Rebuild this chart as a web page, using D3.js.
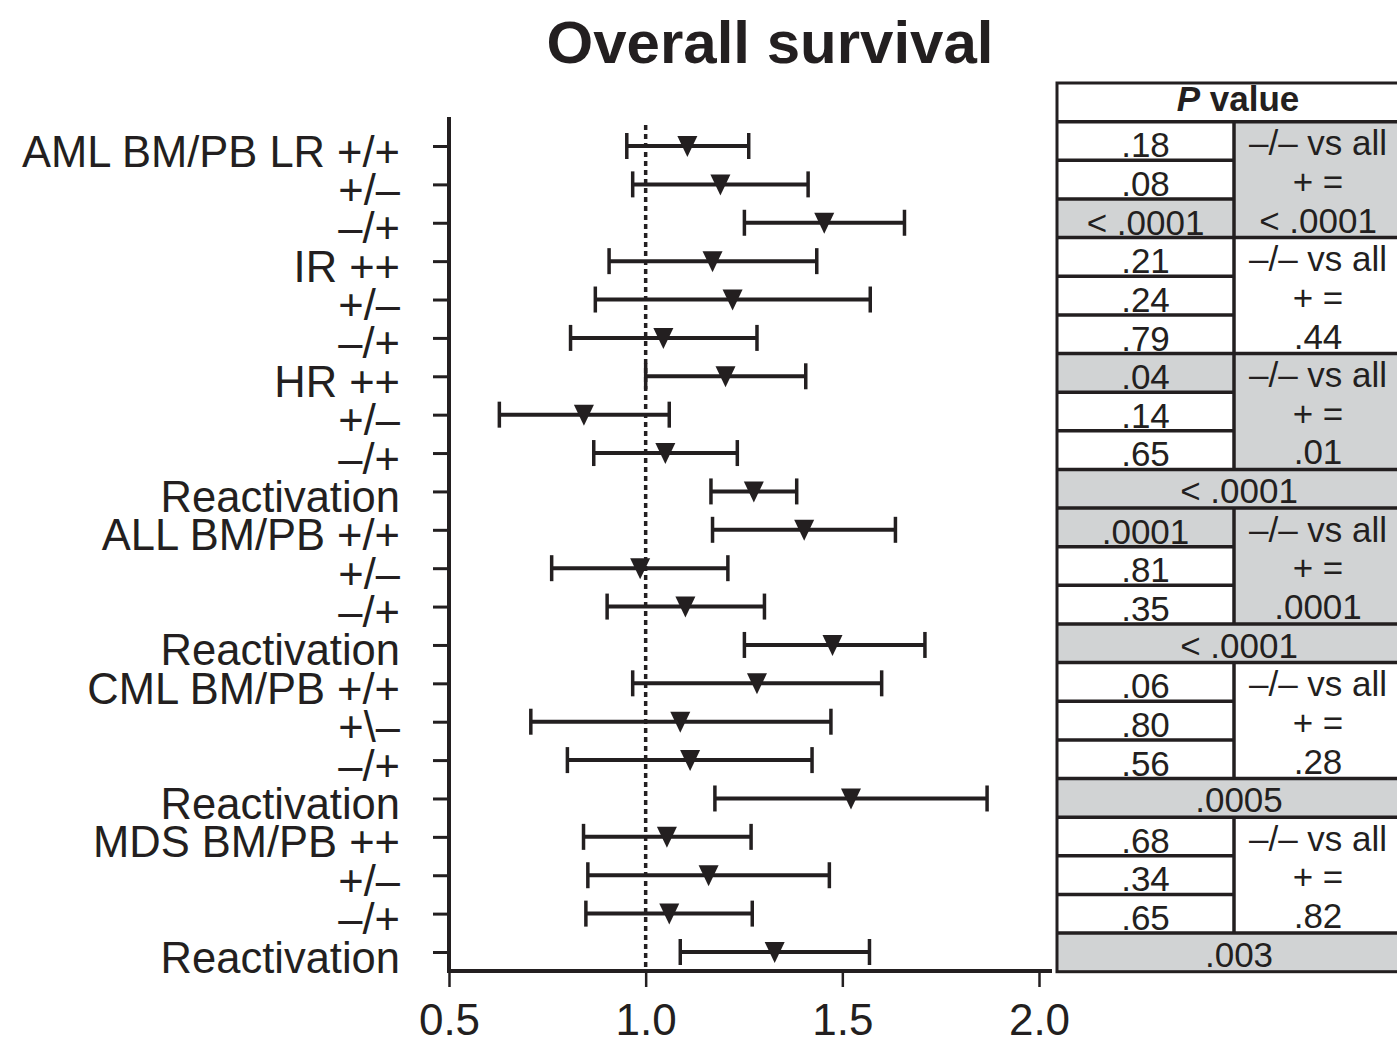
<!DOCTYPE html>
<html>
<head>
<meta charset="utf-8">
<script src="https://cdn.jsdelivr.net/npm/d3@7"></script>
<style>
  html, body { margin: 0; padding: 0; background: #fff; }
  svg { display: block; }
  text { font-family: "Liberation Sans", Arial, Helvetica, sans-serif; fill: #231f20; }
</style>
</head>
<body>
<svg id="chart" width="1397" height="1045"></svg>
<script>
// ---------- data ----------
const rowLabels = [
  "AML BM/PB LR +/+", "+/\u2013", "\u2013/+",
  "IR ++", "+/\u2013", "\u2013/+",
  "HR ++", "+/\u2013", "\u2013/+",
  "Reactivation",
  "ALL BM/PB +/+", "+/\u2013", "\u2013/+",
  "Reactivation",
  "CML BM/PB +/+", "+\\\u2013", "\u2013/+",
  "Reactivation",
  "MDS BM/PB ++", "+/\u2013", "\u2013/+",
  "Reactivation"
];
const estimate = [1.106, 1.190, 1.454, 1.170, 1.221, 1.045, 1.203, 0.843, 1.050, 1.275, 1.403,
                  0.986, 1.101, 1.475, 1.283, 1.088, 1.113, 1.522, 1.054, 1.160, 1.060, 1.328];
const lower    = [0.952, 0.967, 1.251, 0.907, 0.872, 0.809, 1.000, 0.628, 0.868, 1.166, 1.170,
                  0.761, 0.902, 1.251, 0.967, 0.708, 0.801, 1.176, 0.842, 0.853, 0.848, 1.088];
const upper    = [1.262, 1.413, 1.658, 1.435, 1.571, 1.283, 1.407, 1.060, 1.233, 1.384, 1.635,
                  1.209, 1.302, 1.710, 1.600, 1.471, 1.423, 1.868, 1.268, 1.467, 1.271, 1.569];
const xTicks = [0.5, 1.0, 1.5, 2.0];
const refValue = 1.0;

const pValues = [".18", ".08", "< .0001", ".21", ".24", ".79", ".04", ".14", ".65", "< .0001",
                 ".0001", ".81", ".35", "< .0001", ".06", ".80", ".56", ".0005", ".68", ".34", ".65", ".003"];
const pShaded  = [0,0,1, 0,0,0, 1,0,0, 1, 1,0,0, 1, 0,0,0, 1, 0,0,0, 1];
const pFullRow = [0,0,0, 0,0,0, 0,0,0, 1, 0,0,0, 1, 0,0,0, 1, 0,0,0, 1];
const groupStart  = [0, 3, 6, 10, 14, 18];
const groupLine1  = ["\u2013/\u2013 vs all", "\u2013/\u2013 vs all", "\u2013/\u2013 vs all",
                     "\u2013/\u2013 vs all", "\u2013/\u2013 vs all", "\u2013/\u2013 vs all"];
const groupLine2  = ["+ =", "+ =", "+ =", "+ =", "+ =", "+ ="];
const groupP      = ["< .0001", ".44", ".01", ".0001", ".28", ".82"];
const groupShaded = [1, 0, 1, 1, 0, 0];

// ---------- layout ----------
const ink = "#231f20", gray = "#d1d3d4";
const svg = d3.select("#chart");

const x = d3.scaleLinear().domain([0.5, 2.0]).range([449, 1039]);
const y = d3.scalePoint().domain(d3.range(rowLabels.length)).range([146, 952]);

// title
svg.append("text").attr("x", 770).attr("y", 63).attr("text-anchor", "middle")
  .attr("font-size", 60).attr("font-weight", "bold").text("Overall survival");

// y axis
const yAxis = d3.axisLeft(y).tickSize(16).tickSizeOuter(0).tickPadding(33)
  .tickFormat(i => rowLabels[i]);
const gy = svg.append("g").attr("transform", "translate(449,0)").call(yAxis);
gy.select(".domain").remove();
gy.selectAll(".tick line").attr("stroke", ink).attr("stroke-width", 3);
gy.selectAll(".tick text").attr("font-size", 43.5).attr("dy", "0.46em")
  .attr("font-family", "'Liberation Sans', Arial, sans-serif").attr("fill", ink);
svg.append("line").attr("x1", 449).attr("x2", 449).attr("y1", 117).attr("y2", 973)
  .attr("stroke", ink).attr("stroke-width", 4);

// x axis
const xAxis = d3.axisBottom(x).tickValues(xTicks).tickFormat(d3.format(".1f"))
  .tickSize(16).tickSizeOuter(0).tickPadding(17);
const gx = svg.append("g").attr("transform", "translate(0,971)").call(xAxis);
gx.select(".domain").remove();
gx.selectAll(".tick line").attr("stroke", ink).attr("stroke-width", 2.5);
gx.selectAll(".tick text").attr("font-size", 44).attr("dy", "0.71em")
  .attr("font-family", "'Liberation Sans', Arial, sans-serif").attr("fill", ink);
svg.append("line").attr("x1", 447).attr("x2", 1052).attr("y1", 971).attr("y2", 971)
  .attr("stroke", ink).attr("stroke-width", 4);

// reference line
svg.append("line").attr("x1", x(refValue)).attr("x2", x(refValue)).attr("y1", 125).attr("y2", 970)
  .attr("stroke", ink).attr("stroke-width", 3.5).attr("stroke-dasharray", "5,4");

// error bars
const rows = d3.range(rowLabels.length);
const bars = svg.append("g");
bars.selectAll("line.ci").data(rows).join("line").attr("class", "ci")
  .attr("x1", i => x(lower[i])).attr("x2", i => x(upper[i]))
  .attr("y1", i => y(i)).attr("y2", i => y(i))
  .attr("stroke", ink).attr("stroke-width", 4);
bars.selectAll("line.capL").data(rows).join("line").attr("class", "capL")
  .attr("x1", i => x(lower[i])).attr("x2", i => x(lower[i]))
  .attr("y1", i => y(i) - 13).attr("y2", i => y(i) + 13)
  .attr("stroke", ink).attr("stroke-width", 3.5);
bars.selectAll("line.capR").data(rows).join("line").attr("class", "capR")
  .attr("x1", i => x(upper[i])).attr("x2", i => x(upper[i]))
  .attr("y1", i => y(i) - 13).attr("y2", i => y(i) + 13)
  .attr("stroke", ink).attr("stroke-width", 3.5);
bars.selectAll("path.pt").data(rows).join("path").attr("class", "pt")
  .attr("d", i => {
    const cx = x(estimate[i]), cy = y(i);
    return `M${cx - 10},${cy - 10}L${cx + 10},${cy - 10}L${cx},${cy + 11}Z`;
  })
  .attr("fill", ink);

// ---------- P value table ----------
const tL = 1057, tDiv = 1234, tR = 1421, tTop = 83, tHead = 121.7, tBot = 971.7;
const rh = (tBot - tHead) / pValues.length;
const rowTop = i => tHead + i * rh;
const table = svg.append("g");
const tfs = 35;

// header
table.append("rect").attr("x", tL).attr("y", tTop).attr("width", tR - tL).attr("height", tHead - tTop).attr("fill", "#fff");
const ht = table.append("text").attr("x", (tL + tR) / 2 - 1).attr("y", 111).attr("text-anchor", "middle")
  .attr("font-size", tfs).attr("font-weight", "bold");
ht.append("tspan").attr("font-style", "italic").text("P");
ht.append("tspan").text(" value");

// cell fills
pValues.forEach((v, i) => {
  const w = pFullRow[i] ? tR - tL : tDiv - tL;
  table.append("rect").attr("x", tL).attr("y", rowTop(i)).attr("width", w).attr("height", rh)
    .attr("fill", pShaded[i] ? gray : "#fff");
});
groupStart.forEach((s, g) => {
  table.append("rect").attr("x", tDiv).attr("y", rowTop(s)).attr("width", tR - tDiv).attr("height", rh * 3)
    .attr("fill", groupShaded[g] ? gray : "#fff");
});

// cell texts
pValues.forEach((v, i) => {
  const cx = pFullRow[i] ? (tL + tR) / 2 : (tL + tDiv) / 2;
  table.append("text").attr("x", cx).attr("y", rowTop(i + 1) - (pFullRow[i] ? 5 : 3))
    .attr("text-anchor", "middle").attr("font-size", tfs).text(v);
});
groupStart.forEach((s, g) => {
  const cx = 1318;
  [groupLine1[g], groupLine2[g], groupP[g]].forEach((t, k) => {
    table.append("text").attr("x", cx).attr("y", rowTop(s + k + 1) - 5)
      .attr("text-anchor", "middle").attr("font-size", tfs).text(t);
  });
});

// lines
const lw = 3.5;
const hline = (x1, x2, yy) => table.append("line").attr("x1", x1).attr("x2", x2).attr("y1", yy).attr("y2", yy)
  .attr("stroke", ink).attr("stroke-width", lw);
const vline = (xx, y1, y2) => table.append("line").attr("x1", xx).attr("x2", xx).attr("y1", y1).attr("y2", y2)
  .attr("stroke", ink).attr("stroke-width", lw);
hline(tL, tR, tHead);
pValues.forEach((v, i) => {
  if (i > 0) {
    const full = pFullRow[i] || pFullRow[i - 1] || groupStart.includes(i);
    hline(tL, full ? tR : tDiv, rowTop(i));
  }
});
groupStart.forEach(s => vline(tDiv, rowTop(s), rowTop(s + 3)));
table.append("rect").attr("x", tL).attr("y", tTop).attr("width", tR - tL).attr("height", tBot - tTop)
  .attr("fill", "none").attr("stroke", ink).attr("stroke-width", 3);
</script>
</body>
</html>
